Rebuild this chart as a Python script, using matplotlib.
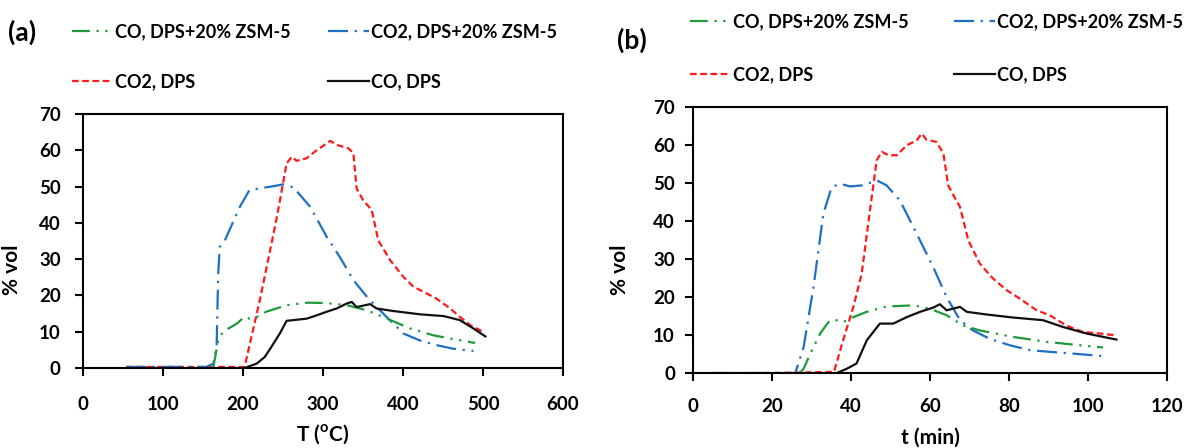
import matplotlib
matplotlib.use("Agg")
import matplotlib.pyplot as plt
from matplotlib.lines import Line2D

plt.rcParams['font.family'] = ['Lato', 'DejaVu Sans']
plt.rcParams['font.weight'] = 'bold'
plt.rcParams['mathtext.fontset'] = 'custom'
plt.rcParams['mathtext.rm'] = 'Lato:bold'
plt.rcParams['mathtext.bf'] = 'Lato:bold'

# ---------------- Panel (a): temperature ----------------
a_co2_dps_x = [54, 100, 150, 177, 202, 221, 234, 244, 254.5, 261, 267, 279.5, 292, 302, 309, 317,
               332, 338, 342, 350, 361, 369, 384, 400.5, 413, 430, 442, 459, 471, 484, 500.6]
a_co2_dps_y = [0.3, 0.3, 0.3, 0.3, 0.3, 18.7, 32.5, 43.5, 56.4, 58.2, 57.1, 57.8, 60, 61.5, 62.6, 61.5,
               60.5, 59.2, 49.5, 46.3, 43.5, 35.2, 29.7, 25.1, 22.4, 20.5, 19.1, 16.4, 14.1, 11.8, 9.9]

a_co2_zsm_x = [54, 100, 154, 163, 167, 169, 171, 177, 196, 208, 221, 238, 250, 263, 284, 304.5,
               321, 338, 355, 367, 388, 400.5, 421, 442, 463, 488]
a_co2_zsm_y = [0.3, 0.3, 0.3, 1.2, 5.8, 26, 33.4, 35, 44.4, 49, 49.5, 50.1, 50.6, 49.8, 44.4, 36.2,
               30.6, 24.2, 19.6, 16.8, 12.2, 9.5, 7.6, 6.3, 5.3, 4.7]

a_co_zsm_x = [163, 169, 175, 192, 202, 208, 217, 229, 254.5, 279.5, 304.5, 330, 355, 380, 409, 438, 467, 490]
a_co_zsm_y = [0.3, 7.6, 10, 12.2, 14.1, 13.6, 14, 15.5, 17.3, 18, 17.9, 17.3, 15.9, 13.6, 10.9, 9, 7.8, 6.9]

a_co_dps_x = [202, 217, 227, 234, 246, 254.5, 263, 279.5, 292, 304.5, 317, 330, 336, 342, 359, 367,
              388, 421, 451, 471, 488, 503]
a_co_dps_y = [0, 1.2, 3, 5.3, 9.5, 13, 13.2, 13.6, 14.5, 15.5, 16.4, 17.8, 18.2, 16.8, 17.6, 16.4,
              15.7, 14.8, 14.3, 13.2, 10.9, 8.7]

# ---------------- Panel (b): time ----------------
b_co2_dps_x = [5, 20, 35.7, 38, 40.6, 42.7, 44.8, 46.5, 47.8, 49.5, 51.6, 54.1, 56.6, 57.9, 59.1, 61.7,
               63.4, 64.6, 65.9, 67.6, 69.7, 72.6, 76, 79.4, 82.7, 87, 90.3, 94.5, 98.7, 103, 107]
b_co2_dps_y = [0, 0, 0.3, 8.6, 17.4, 26.1, 42.8, 56, 58.2, 57.3, 57.3, 59.9, 61.2, 63, 61.4, 60.8,
               57.7, 49.4, 46.8, 43.7, 34.9, 28.8, 24.8, 21.8, 19.6, 16.5, 15.2, 12.5, 10.8, 10.4, 9.9]

b_co2_zsm_x = [5, 20, 25.9, 28, 30.5, 33, 35.1, 37.2, 39.8, 43.1, 46.5, 49, 52.4, 56.6, 60.8, 64.2,
               67.6, 70.9, 75.1, 80.2, 85.3, 91.2, 96.2, 104.6]
b_co2_zsm_y = [0, 0, 0, 6.8, 22.6, 41.9, 48.9, 49.8, 49.1, 49.4, 50.7, 49.4, 45.4, 36.7, 27.9, 20,
               13.9, 11.2, 9, 7.3, 6, 5.5, 5.1, 4.4]

b_co_zsm_x = [27, 28, 29.7, 32.2, 34.3, 35.5, 38, 40.6, 44, 49, 55.8, 60, 64.2, 68.4, 72.6, 81, 89.5, 98, 103.8]
b_co_zsm_y = [0, 1.1, 5.1, 10.4, 13.4, 14.1, 13.4, 14.7, 16.1, 17.5, 17.8, 16.9, 15.2, 12.5, 11.2, 9.5, 8.2, 7.3, 6.7]

b_co_dps_x = [36.4, 38.9, 41.4, 44, 47.3, 50.7, 54.1, 57.5, 60.8, 62.5, 64.2, 67.6, 69.3, 74.3, 81,
              88.6, 93.7, 99.6, 107.2]
b_co_dps_y = [0, 1.1, 2.5, 8.6, 13, 13, 14.7, 16.1, 17.2, 18.1, 16.5, 17.4, 16.1, 15.4, 14.6,
              13.9, 12.1, 10.4, 8.8]

labels = ["CO, DPS+20% ZSM-5", "CO2, DPS+20% ZSM-5", "CO2, DPS", "CO, DPS"]
a_xticks = [0, 100, 200, 300, 400, 500, 600]
b_xticks = [0, 20, 40, 60, 80, 100, 120]
yticks = [0, 10, 20, 30, 40, 50, 60, 70]

GREEN = '#1E9A3A'
BLUE = '#1F6FC2'
RED = '#FF1A1A'
BLACK = '#111111'
styles = {
    'co_zsm': dict(color=GREEN, lw=1.6, dashes=(8, 3, 1, 3, 1, 3)),
    'co2_zsm': dict(color=BLUE, lw=1.6, dashes=(9, 3, 1, 3)),
    'co2_dps': dict(color=RED, lw=1.6, dashes=(3, 1.6)),
    'co_dps': dict(color=BLACK, lw=1.6),
}

W, H = 1184, 448
fig = plt.figure(figsize=(W / 100, H / 100), dpi=100)

def px_axes(l, r, t, b):
    return fig.add_axes([l / W, (H - b) / H, (r - l) / W, (b - t) / H])

axA = px_axes(83, 563, 114, 368)
axB = px_axes(693, 1167, 107, 373)

def draw(ax, data, xlim, xticks, xlabel, ypad, xpad, ylab_xy, xlab_xy):
    for key, (xs, ys) in data.items():
        ax.plot(xs, ys, **styles[key])
    ax.set_xlim(*xlim)
    ax.set_ylim(0, 70)
    ax.set_xticks(xticks)
    ax.set_yticks(yticks)
    for s in ax.spines.values():
        s.set_linewidth(1.5)
        s.set_color('black')
    ax.tick_params(axis='both', direction='out', length=6, width=1.5, labelsize=13.5)
    ax.tick_params(axis='y', pad=ypad)
    ax.tick_params(axis='x', pad=xpad)
    for lab in ax.get_xticklabels() + ax.get_yticklabels():
        lab.set_fontweight('bold')
    ax.set_ylabel('% vol', fontsize=15, fontweight='bold')
    ax.yaxis.set_label_coords(*ylab_xy)
    ax.set_xlabel(xlabel, fontsize=15, fontweight='bold')
    ax.xaxis.set_label_coords(*xlab_xy)

draw(axA, {'co2_dps': (a_co2_dps_x, a_co2_dps_y), 'co2_zsm': (a_co2_zsm_x, a_co2_zsm_y),
           'co_zsm': (a_co_zsm_x, a_co_zsm_y), 'co_dps': (a_co_dps_x, a_co_dps_y)},
     (0, 600), a_xticks, r'T ($^{\rm o}$C)', 10, 14, (-0.127, 0.386), (0.5, -0.215))
draw(axB, {'co2_dps': (b_co2_dps_x, b_co2_dps_y), 'co2_zsm': (b_co2_zsm_x, b_co2_zsm_y),
           'co_zsm': (b_co_zsm_x, b_co_zsm_y), 'co_dps': (b_co_dps_x, b_co_dps_y)},
     (0, 120), b_xticks, 't (min)', 7, 12, (-0.133, 0.387), (0.5, -0.205))

# panel letters
fig.text(8 / W, 1 - 32 / H, '(a)', fontsize=19, fontweight='bold', va='center', ha='left')
fig.text(617 / W, 1 - 40 / H, '(b)', fontsize=19, fontweight='bold', va='center', ha='left')

# legends (one entry each, placed by handle start)
def add_entry(key, label, x, y):
    h = Line2D([], [], **styles[key])
    fig.legend([h], [label], loc='center left', bbox_to_anchor=(x / W, 1 - y / H),
               frameon=False, handlelength=2.25, handletextpad=0.15,
               borderpad=0, borderaxespad=0, prop={'weight': 'bold', 'size': 13})

add_entry('co_zsm', labels[0], 72, 32)
add_entry('co2_zsm', labels[1], 328, 32)
add_entry('co2_dps', labels[2], 72, 82)
add_entry('co_dps', labels[3], 328, 82)
add_entry('co_zsm', labels[0], 690, 22)
add_entry('co2_zsm', labels[1], 954, 22)
add_entry('co2_dps', labels[2], 690, 75)
add_entry('co_dps', labels[3], 954, 75)

fig.savefig('out.png', dpi=100)
